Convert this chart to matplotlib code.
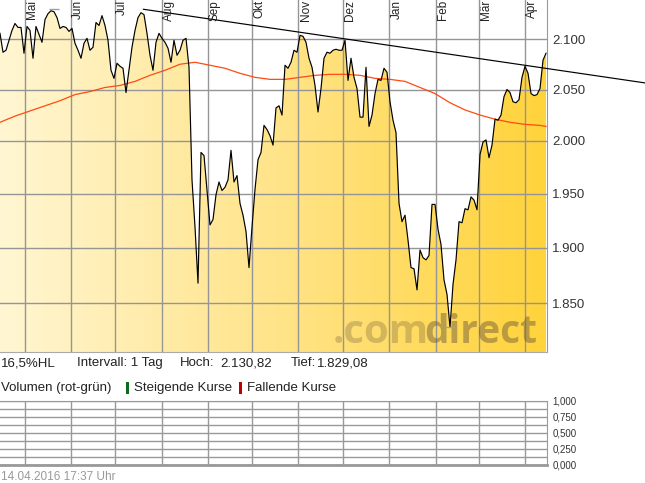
import numpy as np
import matplotlib
matplotlib.use('Agg')
import matplotlib.pyplot as plt
from matplotlib.colors import LinearSegmentedColormap
from matplotlib.ticker import FixedLocator, NullLocator, FuncFormatter
import matplotlib.transforms as mtransforms
from matplotlib.patches import Rectangle

# ---------------- data ----------------
close = [
    2106, 2087, 2089, 2099, 2109, 2116, 2112, 2112, 2086, 2113,
    2109, 2081, 2113, 2105, 2097, 2120, 2126, 2129, 2128, 2122,
    2111, 2113, 2112, 2108, 2111, 2096, 2089, 2081, 2096, 2101,
    2089, 2092, 2117, 2114, 2124, 2114, 2099, 2069, 2061, 2076,
    2073, 2071, 2047, 2069, 2092, 2109, 2122, 2127, 2125, 2106,
    2084, 2069, 2097, 2106, 2101, 2097, 2091, 2077, 2099, 2084,
    2089, 2099, 2101, 2072, 1963, 1919, 1868, 1989, 1986, 1953,
    1921, 1926, 1949, 1961, 1953, 1956, 1963, 1991, 1961, 1967,
    1941, 1930, 1915, 1882, 1919, 1954, 1982, 1989, 2015, 2011,
    2005, 1996, 2032, 2034, 2025, 2074, 2071, 2077, 2089, 2087,
    2104, 2103, 2097, 2081, 2072, 2054, 2028, 2051, 2081, 2087,
    2086, 2089, 2090, 2089, 2089, 2099, 2059, 2081, 2062, 2051,
    2023, 2023, 2072, 2014, 2025, 2046, 2060, 2059, 2071, 2067,
    2038, 2020, 2008, 1941, 1924, 1930, 1907, 1882, 1881, 1862,
    1898, 1891, 1889, 1893, 1940, 1940, 1917, 1903, 1871, 1858,
    1829, 1867, 1889, 1924, 1923, 1936, 1935, 1947, 1944, 1935,
    1987, 1999, 2001, 1984, 1996, 2021, 2020, 2025, 2043, 2050,
    2047, 2038, 2037, 2040, 2062, 2073, 2066, 2046, 2044, 2045,
    2051, 2079, 2086,
]
ma_x = list(range(0, 181, 5)) + [182]
ma = [2018, 2024, 2029, 2034, 2039, 2045, 2048, 2052, 2054, 2058,
      2064, 2069, 2075, 2077, 2074, 2071, 2066, 2062, 2060, 2060,
      2062, 2064, 2065, 2065, 2064, 2061, 2060, 2058, 2052, 2046,
      2037, 2030, 2025, 2021, 2018, 2016, 2015, 2014]
trend_x = [47.8, 215.0]
trend_y = [2130.5, 2056.5]

months = ['Mai', 'Jun', 'Jul', 'Aug', 'Sep', 'Okt', 'Nov', 'Dez', 'Jan', 'Feb', 'Mär', 'Apr']
month_pos = [8.23, 23.57, 38.23, 54.0, 69.23, 84.1, 99.43, 114.23, 129.77, 145.23, 159.57, 174.9]
yticks = [1850, 1900, 1950, 2000, 2050, 2100]
vol_ticks = [0.0, 0.25, 0.5, 0.75, 1.0]

hoch, hoch_idx = 2130.82, 18
tief, tief_idx = 1829.08, 150

# ---------------- figure ----------------
plt.rcParams['font.family'] = ['Liberation Sans', 'DejaVu Sans']
W, H = 645, 483
fig = plt.figure(figsize=(W / 100, H / 100), dpi=100)
fig.patch.set_facecolor('white')

ax = fig.add_axes([0, 1 - 352 / H, 546.7 / W, 352 / H])
ax.set_yscale('log')
x = np.arange(len(close))
y_lo, y_hi = 1807.3, 2140.0

poly = ax.fill_between(x, close, y_lo, facecolor='none', edgecolor='none')
grad = np.linspace(0, 1, 256).reshape(1, -1)
cmap = LinearSegmentedColormap.from_list('g', ['#FFF6D2', '#FFE48A', '#FFD33A'])
img = ax.imshow(grad, cmap=cmap, extent=[0, 1, 0, 1], transform=ax.transAxes,
                aspect='auto', zorder=1, interpolation='bilinear')
img.set_clip_path(poly.get_paths()[0], transform=ax.transData)

ax.set_xlim(0, 182.23)
ax.set_ylim(y_lo, y_hi)

ax.yaxis.set_major_locator(FixedLocator(yticks))
ax.yaxis.set_minor_locator(NullLocator())
ax.xaxis.set_major_locator(FixedLocator(month_pos))
ax.xaxis.set_minor_locator(NullLocator())
ax.yaxis.set_major_formatter(FuncFormatter(lambda v, p: f'{v:,.0f}'.replace(',', '.')))
ax.grid(True, color='#959595', lw=1.0)
ax.tick_params(axis='x', length=0, labelbottom=False)
ax.tick_params(axis='y', length=0, labelleft=False, labelright=True, pad=4,
               labelsize=9.5, labelcolor='#333333')
for s in ['left', 'top']:
    ax.spines[s].set_visible(False)
ax.spines['right'].set_color('#999999')
ax.spines['bottom'].set_color('#aaaaaa')

ax.plot(ma_x, ma, color='#ff4a12', lw=0.9, zorder=3)
ax.plot(x, close, color='black', lw=0.85, zorder=4)
ax.plot(trend_x, trend_y, color='black', lw=0.85, clip_on=False, zorder=5)
ax.hlines(hoch, hoch_idx - 1.6, hoch_idx + 1.7, color='#a0a0a0', lw=1.0, zorder=4)
ax.hlines(tief, tief_idx - 1.6, tief_idx + 1.7, color='#a0a0a0', lw=1.0, zorder=4)

mtr = mtransforms.blended_transform_factory(ax.transData, ax.transAxes) + \
    mtransforms.ScaledTranslation(7.3 / 100, 0, fig.dpi_scale_trans)
for pos, name in zip(month_pos, months):
    ax.text(pos, 1.0, name, transform=mtr, rotation=90, va='top', ha='center',
            fontsize=8.5, color='#222222', zorder=6)

# watermark
ax.text(429 / 546.7, 9 / 352, '.com', transform=ax.transAxes, ha='right', va='baseline',
        fontsize=29, family='Open Sans', weight='bold', color='#6e5a3c', alpha=0.3, zorder=2)
ax.text(424 / 546.7, 9 / 352, 'direct', transform=ax.transAxes, ha='left', va='baseline',
        fontsize=28, family='Open Sans', weight='bold', color='#6e5a3c', alpha=0.47, zorder=2)

# ---------------- info rows ----------------
def fx(px):
    return px / W

def fy(py):
    return 1 - py / H

tc = '#222222'
fig.text(fx(1), fy(363), '16,5%HL', fontsize=9.5, color=tc, va='center')
fig.text(fx(77), fy(363), 'Intervall: 1 Tag', fontsize=9.5, color=tc, va='center')
fig.text(fx(180), fy(363), 'Hoch:', fontsize=9.5, color=tc, va='center')
fig.text(fx(220), fy(363), '2.130,82', fontsize=9.5, color=tc, va='center')
fig.text(fx(291), fy(363), 'Tief:', fontsize=9.5, color=tc, va='center')
fig.text(fx(317), fy(363), '1.829,08', fontsize=9.5, color=tc, va='center')

fig.text(fx(1), fy(388), 'Volumen (rot-grün)', fontsize=9.5, color=tc, va='center')
fig.patches.append(Rectangle((fx(126), fy(394)), 3 / W, 12 / H, transform=fig.transFigure,
                             facecolor='#0a6a1e', edgecolor='none'))
fig.text(fx(134), fy(388), 'Steigende Kurse', fontsize=9.5, color=tc, va='center')
fig.patches.append(Rectangle((fx(239), fy(394)), 3 / W, 12 / H, transform=fig.transFigure,
                             facecolor='#c00000', edgecolor='none'))
fig.text(fx(247), fy(388), 'Fallende Kurse', fontsize=9.5, color=tc, va='center')

# ---------------- volume panel ----------------
vax = fig.add_axes([0, 1 - 465 / H, 546.7 / W, 64.5 / H])
vax.set_xlim(0, 182.23)
vax.set_ylim(0, 1)
vax.xaxis.set_major_locator(FixedLocator(month_pos))
vax.yaxis.set_major_locator(FixedLocator(vol_ticks))
vax.yaxis.set_minor_locator(FixedLocator([0.125, 0.375, 0.625, 0.875]))
vax.yaxis.set_major_formatter(FuncFormatter(lambda v, p: f'{v:.3f}'.replace('.', ',')))
vax.grid(True, which='major', color='#999999', lw=1.0)
vax.grid(True, which='minor', axis='y', color='#999999', lw=1.0)
vax.tick_params(axis='x', length=0, labelbottom=False)
vax.tick_params(axis='y', which='both', length=0, labelleft=False, labelright=True,
                pad=4, labelsize=7, labelcolor='#333333')
vax.spines['left'].set_visible(False)
vax.spines['top'].set_color('#999999')
vax.spines['right'].set_color('#999999')
vax.spines['bottom'].set_color('#999999')
vax.spines['bottom'].set_linewidth(2.0)

fig.text(fx(1), fy(477), '14.04.2016 17:37 Uhr', fontsize=8.5, color='#999999', va='center')

fig.savefig('out.png', dpi=100)
